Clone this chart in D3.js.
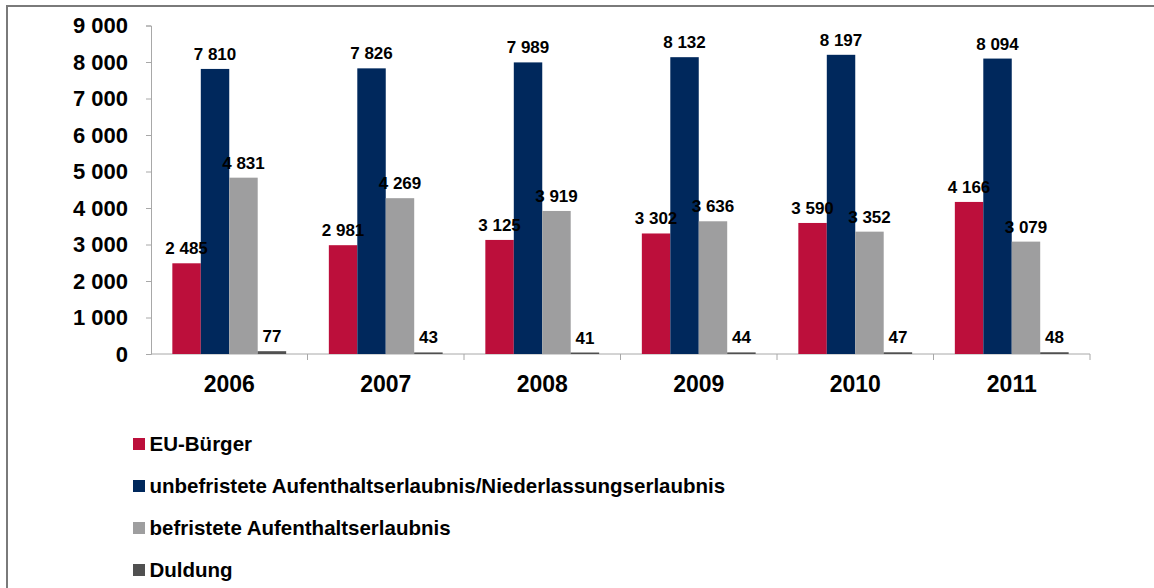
<!DOCTYPE html>
<html>
<head>
<meta charset="utf-8">
<script src="https://cdn.jsdelivr.net/npm/d3@7"></script>
<style>
  html, body { margin: 0; padding: 0; background: #fff; }
  svg { display: block; font-family: "Liberation Sans", Arial, sans-serif; }
</style>
</head>
<body>
<svg id="chart" width="1154" height="588"></svg>
<script>
// Years on the category axis
const years = ["2006", "2007", "2008", "2009", "2010", "2011"];

// Series values per year
const euBuerger = [2485, 2981, 3125, 3302, 3590, 4166];
const unbefristet = [7810, 7826, 7989, 8132, 8197, 8094];
const befristet = [4831, 4269, 3919, 3636, 3352, 3079];
const duldung = [77, 43, 41, 44, 47, 48];

const seriesNames = [
  "EU-Bürger",
  "unbefristete Aufenthaltserlaubnis/Niederlassungserlaubnis",
  "befristete Aufenthaltserlaubnis",
  "Duldung"
];
const seriesColors = ["#BC0F3B", "#00285C", "#9E9E9F", "#505050"];

// Value axis ticks
const yTicks = [0, 1000, 2000, 3000, 4000, 5000, 6000, 7000, 8000, 9000];

const seriesValues = [euBuerger, unbefristet, befristet, duldung];

const svg = d3.select("#chart");
const W = 1154, H = 588;
const plot = { left: 151, right: 1090, top: 25.5, bottom: 354 };

// Space as thousands separator
const fmt = d3.formatLocale({ decimal: ",", thousands: " ", grouping: [3], currency: ["", " €"] }).format(",d");

// Outer frame (top and left edges)
svg.append("path")
  .attr("d", `M7,${H} L7,6 L${W},6`)
  .attr("fill", "none")
  .attr("stroke", "#7a7a7a")
  .attr("stroke-width", 2);

const x0 = d3.scaleBand().domain(years).range([plot.left, plot.right]).paddingInner(0).paddingOuter(0);
const x1 = d3.scaleBand().domain(d3.range(seriesNames.length)).range([0, x0.bandwidth()]).paddingOuter(0.75).paddingInner(0);
const y = d3.scaleLinear().domain([0, 9000]).range([plot.bottom, plot.top]);

// Y axis
const yAxis = svg.append("g")
  .attr("transform", `translate(${plot.left},0)`)
  .call(d3.axisLeft(y).tickValues(yTicks).tickSize(5).tickPadding(18).tickFormat(fmt));
yAxis.select(".domain").attr("stroke", "#a8a8a8");
yAxis.selectAll(".tick line").attr("stroke", "#a8a8a8");
yAxis.selectAll(".tick text")
  .attr("fill", "#000")
  .attr("font-size", 22)
  .attr("font-weight", "bold")
  .attr("font-family", "Liberation Sans, Arial, sans-serif");

// X axis baseline with category boundary ticks
const xg = svg.append("g").attr("transform", `translate(0,${plot.bottom})`);
xg.append("line")
  .attr("x1", plot.left).attr("x2", plot.right)
  .attr("stroke", "#a8a8a8");
xg.selectAll("line.sep")
  .data(years)
  .join("line")
  .attr("class", "sep")
  .attr("x1", d => x0(d) + x0.bandwidth()).attr("x2", d => x0(d) + x0.bandwidth())
  .attr("y1", 0).attr("y2", 6)
  .attr("stroke", "#a8a8a8");
xg.selectAll("text")
  .data(years)
  .join("text")
  .attr("x", d => x0(d) + x0.bandwidth() / 2)
  .attr("y", 38)
  .attr("text-anchor", "middle")
  .attr("font-size", 23)
  .attr("font-weight", "bold")
  .text(d => d);

// Bars and value labels
const groups = svg.append("g").selectAll("g")
  .data(years)
  .join("g")
  .attr("transform", d => `translate(${x0(d)},0)`);

groups.selectAll("rect")
  .data((d, i) => seriesValues.map((s, k) => ({ k, v: s[i] })))
  .join("rect")
  .attr("x", d => x1(d.k))
  .attr("width", x1.bandwidth())
  .attr("y", d => y(d.v))
  .attr("height", d => plot.bottom - y(d.v))
  .attr("fill", d => seriesColors[d.k]);

groups.selectAll("text")
  .data((d, i) => seriesValues.map((s, k) => ({ k, v: s[i] })))
  .join("text")
  .attr("x", d => x1(d.k) + x1.bandwidth() / 2)
  .attr("y", d => y(d.v) - 9)
  .attr("text-anchor", "middle")
  .attr("font-size", 17)
  .attr("font-weight", "bold")
  .text(d => fmt(d.v));

// Legend
const legend = svg.append("g").selectAll("g")
  .data(seriesNames)
  .join("g")
  .attr("transform", (d, i) => `translate(133,${445 + i * 42})`);
legend.append("rect")
  .attr("x", 0).attr("y", -7)
  .attr("width", 12).attr("height", 12)
  .attr("fill", (d, i) => seriesColors[i]);
legend.append("text")
  .attr("x", 16.5).attr("y", 6)
  .attr("font-size", 20.5)
  .attr("font-weight", "bold")
  .text(d => d);
</script>
</body>
</html>
